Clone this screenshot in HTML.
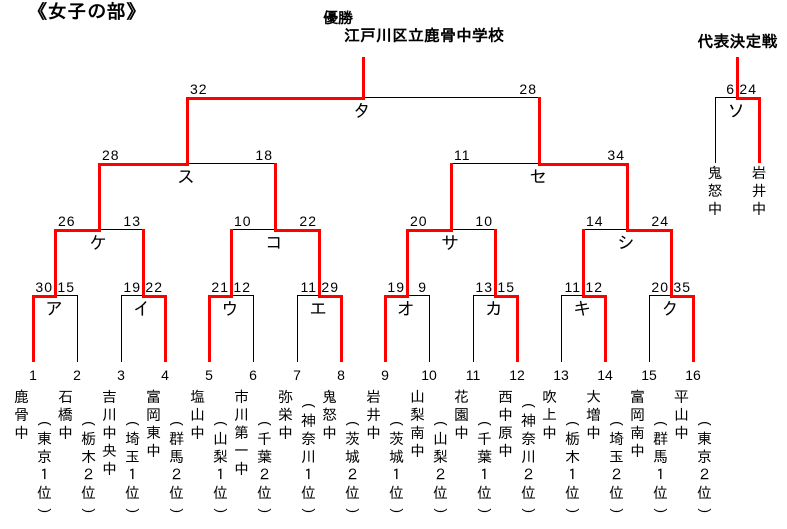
<!DOCTYPE html>
<html><head><meta charset="utf-8">
<style>
body{margin:0;background:#fff}
#w{position:relative;width:787px;height:529px;overflow:hidden;background:#fff;font-family:"Liberation Sans","IPAGothic",sans-serif;color:#000}
.a{position:absolute;white-space:nowrap;font-weight:bold}
.s{position:absolute;font-size:14px;line-height:14px;letter-spacing:1px;white-space:nowrap}
.n{position:absolute;font-size:14px;line-height:14px;width:30px;text-align:center;top:368.4px}
.k{position:absolute;font-size:18px;line-height:18px;width:22px;text-align:center}
.v{position:absolute;width:16px;font-size:15px;text-align:center}
.v span{display:block;height:18px;line-height:18px;position:relative}
.v i{position:absolute;left:0;top:0;width:16px;height:18px;line-height:18px;text-align:center;font-style:normal;font-size:14px;font-family:"Liberation Sans",sans-serif}
.v .o i{transform:translate(1px,1.5px) rotate(90deg)}
.v .c i{transform:translate(1px,-1.3px) rotate(90deg)}
.r1{top:280px}.r2{top:214px}.r3{top:148px}.r4{top:82px}
.l1{top:300px}.l2{top:234px}.l3{top:168px}.l4{top:102px}
</style></head><body><div id="w">
<svg width="787" height="529" style="position:absolute;left:0;top:0">
<g fill="none" stroke="#000" stroke-width="1">
<path d="M55 295.5H78M77.5 295V362"/>
<path d="M121 295.5H144M121.5 295V362"/>
<path d="M231 295.5H254M253.5 295V362"/>
<path d="M297 295.5H320M297.5 295V362"/>
<path d="M407 295.5H430M429.5 295V362"/>
<path d="M473 295.5H496M473.5 295V362"/>
<path d="M561 295.5H584M561.5 295V362"/>
<path d="M649 295.5H672M649.5 295V362"/>
<path d="M99 229.5H144M231 229.5H276M451 229.5H496M583 229.5H628"/>
<path d="M187 163.5H276M451 163.5H540"/>
<path d="M363 97.5H540"/>
<path d="M715 97.5H738M715.5 97V163"/>
</g>
<g fill="none" stroke="#ff0000" stroke-width="3" stroke-linejoin="miter">
<path d="M33.5 362V296.5H55.5V230.5H99.5V164.5H187.5V98.5H363.5V57"/>
<path d="M165.5 362V296.5H143.5V229"/>
<path d="M209.5 362V296.5H231.5V229"/>
<path d="M341.5 362V296.5H319.5V230.5H275.5V163"/>
<path d="M385.5 362V296.5H407.5V230.5H451.5V163"/>
<path d="M517.5 362V296.5H495.5V229"/>
<path d="M605.5 362V296.5H583.5V229"/>
<path d="M693.5 362V296.5H671.5V230.5H627.5V164.5H539.5V97"/>
<path d="M759.5 163V98.5H737.5V57"/>
</g>
</svg>

<div class="a" style="left:28px;top:3.2px;font-size:19px;line-height:19px;letter-spacing:0.7px">《女子の部》</div>
<div class="a" style="left:323px;top:11.2px;font-size:15px;line-height:15px">優勝</div>
<div class="a" style="left:344px;top:29.2px;font-size:16px;line-height:16px">江戸川区立鹿骨中学校</div>
<div class="a" style="left:697.5px;top:35.3px;font-size:16px;line-height:16px">代表決定戦</div>

<!-- scores round 1 -->
<div class="s r1" style="right:734px">30</div><div class="s r1" style="right:712px">15</div>
<div class="s r1" style="right:646px">19</div><div class="s r1" style="right:624px">22</div>
<div class="s r1" style="right:558px">21</div><div class="s r1" style="right:536px">12</div>
<div class="s r1" style="right:470px">11</div><div class="s r1" style="right:448px">29</div>
<div class="s r1" style="right:382px">19</div><div class="s r1" style="right:360px">9</div>
<div class="s r1" style="right:294px">13</div><div class="s r1" style="right:272px">15</div>
<div class="s r1" style="right:206px">11</div><div class="s r1" style="right:184px">12</div>
<div class="s r1" style="right:118px">20</div><div class="s r1" style="right:96px">35</div>
<!-- round 2 -->
<div class="s r2" style="left:58px">26</div><div class="s r2" style="right:646px">13</div>
<div class="s r2" style="left:234px">10</div><div class="s r2" style="right:470px">22</div>
<div class="s r2" style="left:410px">20</div><div class="s r2" style="right:294px">10</div>
<div class="s r2" style="left:586px">14</div><div class="s r2" style="right:118px">24</div>
<!-- round 3 -->
<div class="s r3" style="left:102px">28</div><div class="s r3" style="right:514px">18</div>
<div class="s r3" style="left:454px">11</div><div class="s r3" style="right:162px">34</div>
<!-- final -->
<div class="s r4" style="left:190px">32</div><div class="s r4" style="right:250px">28</div>
<div class="s r4" style="right:52px">6</div><div class="s r4" style="right:30px">24</div>

<!-- labels -->
<div class="k l1" style="left:43px">ア</div>
<div class="k l1" style="left:131px">イ</div>
<div class="k l1" style="left:219px">ウ</div>
<div class="k l1" style="left:307px">エ</div>
<div class="k l1" style="left:395px">オ</div>
<div class="k l1" style="left:483px">カ</div>
<div class="k l1" style="left:571px">キ</div>
<div class="k l1" style="left:659px">ク</div>
<div class="k l2" style="left:87px">ケ</div>
<div class="k l2" style="left:263px">コ</div>
<div class="k l2" style="left:439px">サ</div>
<div class="k l2" style="left:615px">シ</div>
<div class="k l3" style="left:175px">ス</div>
<div class="k l3" style="left:527px">セ</div>
<div class="k l4" style="left:351px">タ</div>
<div class="k l4" style="left:725px">ソ</div>

<!-- team numbers -->
<div class="n" style="left:18px">1</div>
<div class="n" style="left:62px">2</div>
<div class="n" style="left:106px">3</div>
<div class="n" style="left:150px">4</div>
<div class="n" style="left:194px">5</div>
<div class="n" style="left:238px">6</div>
<div class="n" style="left:282px">7</div>
<div class="n" style="left:326px">8</div>
<div class="n" style="left:370px">9</div>
<div class="n" style="left:414px">10</div>
<div class="n" style="left:458px">11</div>
<div class="n" style="left:502px">12</div>
<div class="n" style="left:546px">13</div>
<div class="n" style="left:590px">14</div>
<div class="n" style="left:634px">15</div>
<div class="n" style="left:678px">16</div>

<!-- team names -->
<div class="v" style="left:13.5px;top:388.5px"><span>鹿</span><span>骨</span><span>中</span></div>
<div class="v" style="left:36.5px;top:413.3px"><span class="o"><i>(</i></span><span>東</span><span>京</span><span>１</span><span>位</span><span class="c"><i>)</i></span></div>

<div class="v" style="left:57.5px;top:388.5px"><span>石</span><span>橋</span><span>中</span></div>
<div class="v" style="left:80.5px;top:413.3px"><span class="o"><i>(</i></span><span>栃</span><span>木</span><span>２</span><span>位</span><span class="c"><i>)</i></span></div>

<div class="v" style="left:101.5px;top:388.5px"><span>吉</span><span>川</span><span>中</span><span>央</span><span>中</span></div>
<div class="v" style="left:124.5px;top:413.3px"><span class="o"><i>(</i></span><span>埼</span><span>玉</span><span>１</span><span>位</span><span class="c"><i>)</i></span></div>

<div class="v" style="left:145.5px;top:388.5px"><span>富</span><span>岡</span><span>東</span><span>中</span></div>
<div class="v" style="left:168.5px;top:413.3px"><span class="o"><i>(</i></span><span>群</span><span>馬</span><span>２</span><span>位</span><span class="c"><i>)</i></span></div>

<div class="v" style="left:189.5px;top:388.5px"><span>塩</span><span>山</span><span>中</span></div>
<div class="v" style="left:212.5px;top:413.3px"><span class="o"><i>(</i></span><span>山</span><span>梨</span><span>１</span><span>位</span><span class="c"><i>)</i></span></div>

<div class="v" style="left:233.5px;top:388.5px"><span>市</span><span>川</span><span>第</span><span>一</span><span>中</span></div>
<div class="v" style="left:256.5px;top:413.3px"><span class="o"><i>(</i></span><span>千</span><span>葉</span><span>２</span><span>位</span><span class="c"><i>)</i></span></div>

<div class="v" style="left:277.5px;top:388.5px"><span>弥</span><span>栄</span><span>中</span></div>
<div class="v" style="left:300.5px;top:395.3px"><span class="o"><i>(</i></span><span>神</span><span>奈</span><span>川</span><span>１</span><span>位</span><span class="c"><i>)</i></span></div>

<div class="v" style="left:321.5px;top:388.5px"><span>鬼</span><span>怒</span><span>中</span></div>
<div class="v" style="left:344.5px;top:413.3px"><span class="o"><i>(</i></span><span>茨</span><span>城</span><span>２</span><span>位</span><span class="c"><i>)</i></span></div>

<div class="v" style="left:365.5px;top:388.5px"><span>岩</span><span>井</span><span>中</span></div>
<div class="v" style="left:388.5px;top:413.3px"><span class="o"><i>(</i></span><span>茨</span><span>城</span><span>１</span><span>位</span><span class="c"><i>)</i></span></div>

<div class="v" style="left:409.5px;top:388.5px"><span>山</span><span>梨</span><span>南</span><span>中</span></div>
<div class="v" style="left:432.5px;top:413.3px"><span class="o"><i>(</i></span><span>山</span><span>梨</span><span>２</span><span>位</span><span class="c"><i>)</i></span></div>

<div class="v" style="left:453.5px;top:388.5px"><span>花</span><span>園</span><span>中</span></div>
<div class="v" style="left:476.5px;top:413.3px"><span class="o"><i>(</i></span><span>千</span><span>葉</span><span>１</span><span>位</span><span class="c"><i>)</i></span></div>

<div class="v" style="left:497.5px;top:388.5px"><span>西</span><span>中</span><span>原</span><span>中</span></div>
<div class="v" style="left:520.5px;top:395.3px"><span class="o"><i>(</i></span><span>神</span><span>奈</span><span>川</span><span>２</span><span>位</span><span class="c"><i>)</i></span></div>

<div class="v" style="left:541.5px;top:388.5px"><span>吹</span><span>上</span><span>中</span></div>
<div class="v" style="left:564.5px;top:413.3px"><span class="o"><i>(</i></span><span>栃</span><span>木</span><span>１</span><span>位</span><span class="c"><i>)</i></span></div>

<div class="v" style="left:585.5px;top:388.5px"><span>大</span><span>増</span><span>中</span></div>
<div class="v" style="left:608.5px;top:413.3px"><span class="o"><i>(</i></span><span>埼</span><span>玉</span><span>２</span><span>位</span><span class="c"><i>)</i></span></div>

<div class="v" style="left:629.5px;top:388.5px"><span>富</span><span>岡</span><span>南</span><span>中</span></div>
<div class="v" style="left:652.5px;top:413.3px"><span class="o"><i>(</i></span><span>群</span><span>馬</span><span>１</span><span>位</span><span class="c"><i>)</i></span></div>

<div class="v" style="left:673.5px;top:388.5px"><span>平</span><span>山</span><span>中</span></div>
<div class="v" style="left:696.5px;top:413.3px"><span class="o"><i>(</i></span><span>東</span><span>京</span><span>２</span><span>位</span><span class="c"><i>)</i></span></div>

<!-- representative match names -->
<div class="v" style="left:707px;top:164.5px"><span>鬼</span><span>怒</span><span>中</span></div>
<div class="v" style="left:751px;top:164.5px"><span>岩</span><span>井</span><span>中</span></div>

</div></body></html>
